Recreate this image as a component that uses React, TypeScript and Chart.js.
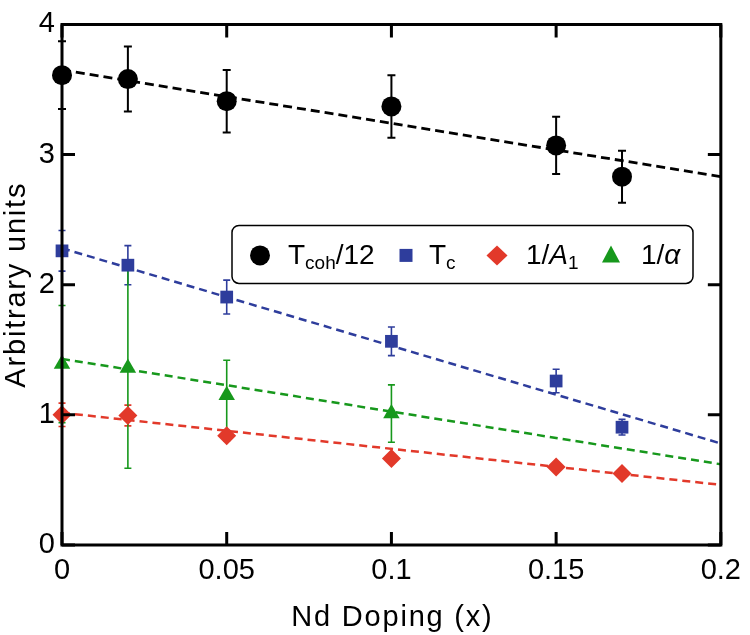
import React, { useEffect, useRef } from "react";
import { Chart, registerables } from "chart.js";

Chart.register(...registerables);

// ---- data ----
const xTicks = [0, 0.05, 0.1, 0.15, 0.2];
const yTicks = [0, 1, 2, 3, 4];

const xTcoh = [0, 0.02, 0.05, 0.1, 0.15, 0.17];
const yTcoh = [3.61, 3.58, 3.41, 3.37, 3.07, 2.83];
const eTcoh = [0.26, 0.25, 0.24, 0.24, 0.22, 0.2];

const xTc = [0, 0.02, 0.05, 0.1, 0.15, 0.17];
const yTc = [2.26, 2.15, 1.905, 1.565, 1.26, 0.905];
const eTc = [0.156, 0.15, 0.13, 0.11, 0.09, 0.06];

const xA1 = [0, 0.02, 0.05, 0.1, 0.15, 0.17];
const yA1 = [1.0, 0.995, 0.84, 0.665, 0.6, 0.55];
const eA1 = [0.09, 0.08, 0.04, 0.03, 0.03, 0.03];

const xAlpha = [0, 0.02, 0.05, 0.1];
const yAlpha = [1.39, 1.36, 1.15, 1.01];
const eAlpha = [0.45, 0.77, 0.27, 0.22];

const fitX = [0, 0.2];
const fitTcoh = [3.65, 2.83];
const fitTc = [2.28, 0.78];
const fitA1 = [1.016, 0.462];
const fitAlpha = [1.43, 0.62];

const BLACK = "#000000";
const BLUE = "#2E3D9C";
const RED = "#E2392A";
const GREEN = "#17981C";
const FONT = "'Liberation Sans', Arial, Helvetica, sans-serif";

const pts = (xs: number[], ys: number[]) => xs.map((x, i) => ({ x, y: ys[i] }));

const errorSeries = [
  { xs: xTcoh, ys: yTcoh, es: eTcoh, color: BLACK, width: 2, cap: 4 },
  { xs: xTc, ys: yTc, es: eTc, color: BLUE, width: 1.6, cap: 3.5 },
  { xs: xA1, ys: yA1, es: eA1, color: RED, width: 1.6, cap: 3.5 },
  { xs: xAlpha, ys: yAlpha, es: eAlpha, color: GREEN, width: 1.6, cap: 3.5 },
];

const errorBarsPlugin = {
  id: "errorBars",
  beforeDatasetsDraw(chart: any) {
    const { ctx, scales } = chart;
    const xs = scales.x;
    const ys = scales.y;
    errorSeries.forEach((s) => {
      ctx.save();
      ctx.strokeStyle = s.color;
      ctx.lineWidth = s.width;
      s.xs.forEach((xv, i) => {
        const px = xs.getPixelForValue(xv);
        const top = ys.getPixelForValue(s.ys[i] + s.es[i]);
        const bot = ys.getPixelForValue(s.ys[i] - s.es[i]);
        ctx.beginPath();
        ctx.moveTo(px, top);
        ctx.lineTo(px, bot);
        ctx.moveTo(px - s.cap, top);
        ctx.lineTo(px + s.cap, top);
        ctx.moveTo(px - s.cap, bot);
        ctx.lineTo(px + s.cap, bot);
        ctx.stroke();
      });
      ctx.restore();
    });
  },
};

const framePlugin = {
  id: "frame",
  afterDatasetsDraw(chart: any) {
    const { ctx, chartArea: a, scales } = chart;
    const tl = 13;
    ctx.save();
    ctx.strokeStyle = "#000";
    ctx.lineWidth = 3;
    ctx.beginPath();
    ctx.rect(a.left, a.top, a.right - a.left, a.bottom - a.top);
    ctx.stroke();
    ctx.beginPath();
    xTicks.forEach((v) => {
      const px = scales.x.getPixelForValue(v);
      ctx.moveTo(px, a.bottom);
      ctx.lineTo(px, a.bottom - tl);
      ctx.moveTo(px, a.top);
      ctx.lineTo(px, a.top + tl);
    });
    yTicks.forEach((v) => {
      const py = scales.y.getPixelForValue(v);
      ctx.moveTo(a.left, py);
      ctx.lineTo(a.left + tl, py);
      ctx.moveTo(a.right, py);
      ctx.lineTo(a.right - tl, py);
    });
    ctx.stroke();
    ctx.restore();
  },
};

type Run = { t: string; size: number; sub?: boolean; italic?: boolean };

function drawRuns(ctx: CanvasRenderingContext2D, runs: Run[], x: number, y: number) {
  let cx = x;
  runs.forEach((r) => {
    ctx.font = `${r.italic ? "italic " : ""}${r.size}px ${FONT}`;
    ctx.fillText(r.t, cx, r.sub ? y + 5 : y);
    cx += ctx.measureText(r.t).width;
  });
}

const legendPlugin = {
  id: "customLegend",
  afterDraw(chart: any) {
    const { ctx, chartArea: a } = chart;
    const L = a.left + 170;
    const T = a.top + 201;
    const W = 461;
    const H = 58;
    const cy = T + 30;
    const base = T + 39;
    ctx.save();
    ctx.fillStyle = "#fff";
    ctx.strokeStyle = "#000";
    ctx.lineWidth = 1.5;
    ctx.beginPath();
    (ctx as any).roundRect(L, T, W, H, 7);
    ctx.fill();
    ctx.stroke();

    // markers
    ctx.fillStyle = BLACK;
    ctx.beginPath();
    ctx.arc(L + 28, cy, 10, 0, Math.PI * 2);
    ctx.fill();

    ctx.fillStyle = BLUE;
    ctx.fillRect(L + 174 - 6.5, cy - 6.5, 13, 13);

    ctx.fillStyle = RED;
    ctx.beginPath();
    ctx.moveTo(L + 265 - 10.5, cy);
    ctx.lineTo(L + 265, cy - 10);
    ctx.lineTo(L + 265 + 10.5, cy);
    ctx.lineTo(L + 265, cy + 10);
    ctx.closePath();
    ctx.fill();

    ctx.fillStyle = GREEN;
    ctx.beginPath();
    ctx.moveTo(L + 379, cy - 10);
    ctx.lineTo(L + 379 + 9, cy + 7);
    ctx.lineTo(L + 379 - 9, cy + 7);
    ctx.closePath();
    ctx.fill();

    // texts
    ctx.fillStyle = "#000";
    ctx.textBaseline = "alphabetic";
    ctx.textAlign = "left";
    drawRuns(ctx, [{ t: "T", size: 28 }, { t: "coh", size: 19, sub: true }, { t: "/12", size: 28 }], L + 56, base);
    drawRuns(ctx, [{ t: "T", size: 28 }, { t: "c", size: 19, sub: true }], L + 197, base);
    drawRuns(ctx, [{ t: "1/", size: 28 }, { t: "A", size: 28, italic: true }, { t: "1", size: 19, sub: true }], L + 294, base);
    drawRuns(ctx, [{ t: "1/", size: 28 }, { t: "α", size: 28, italic: true }], L + 409, base);
    ctx.restore();
  },
};

const titlesPlugin = {
  id: "axisTitles",
  afterDraw(chart: any) {
    const { ctx, chartArea: a } = chart;
    ctx.save();
    ctx.fillStyle = "#000";
    ctx.font = `29px ${FONT}`;
    (ctx as any).letterSpacing = "1.8px";
    ctx.textAlign = "center";
    ctx.textBaseline = "alphabetic";
    ctx.fillText("Nd Doping (x)", (a.left + a.right) / 2 + 1, a.bottom + 81);
    ctx.translate(25, (a.top + a.bottom) / 2);
    ctx.rotate(-Math.PI / 2);
    ctx.fillText("Arbitrary units", 0, 0);
    ctx.restore();
  },
};

export default function App() {
  const ref = useRef<HTMLCanvasElement | null>(null);

  useEffect(() => {
    if (!ref.current) return;
    const fit = (ys: number[], color: string, width: number, dash: number[]) => ({
      type: "line" as const,
      data: pts(fitX, ys),
      borderColor: color,
      borderWidth: width,
      borderDash: dash,
      pointRadius: 0,
      fill: false,
      order: 2,
      clip: false as any,
    });
    const mark = (xs: number[], ys: number[], color: string, style: string, r: number) => ({
      type: "scatter" as const,
      data: pts(xs, ys),
      backgroundColor: color,
      borderColor: color,
      borderWidth: 0,
      pointStyle: style,
      pointRadius: r,
      pointHoverRadius: r,
      order: 1,
      clip: false as any,
    });

    const chart = new Chart(ref.current, {
      type: "scatter",
      data: {
        datasets: [
          fit(fitTcoh, BLACK, 2.8, [9, 5]),
          fit(fitTc, BLUE, 2.5, [8, 5]),
          fit(fitA1, RED, 2.5, [8, 5]),
          fit(fitAlpha, GREEN, 2.5, [8, 5]),
          mark(xA1, yA1, RED, "rectRot", 9.5),
          mark(xAlpha, yAlpha, GREEN, "triangle", 9.5),
          mark(xTc, yTc, BLUE, "rect", 9),
          mark(xTcoh, yTcoh, BLACK, "circle", 10),
        ] as any,
      },
      options: {
        animation: false,
        responsive: true,
        maintainAspectRatio: false,
        layout: { padding: { top: 11, right: 22, left: 0, bottom: 0 } },
        plugins: {
          legend: { display: false },
          tooltip: { enabled: false },
        },
        scales: {
          x: {
            type: "linear",
            min: 0,
            max: 0.2,
            grid: { display: false, drawTicks: false },
            border: { display: false },
            afterBuildTicks: (s: any) => {
              s.ticks = xTicks.map((v) => ({ value: v }));
            },
            afterFit: (s: any) => {
              s.height = 90;
            },
            ticks: {
              padding: 9,
              color: "#000",
              maxRotation: 0,
              autoSkip: false,
              font: { size: 29, family: FONT },
              callback: (v: any) => String(v),
            },
          },
          y: {
            type: "linear",
            min: 0,
            max: 4,
            grid: { display: false, drawTicks: false },
            border: { display: false },
            afterBuildTicks: (s: any) => {
              s.ticks = yTicks.map((v) => ({ value: v }));
            },
            afterFit: (s: any) => {
              s.width = 62;
            },
            ticks: {
              padding: 7,
              color: "#000",
              autoSkip: false,
              font: { size: 29, family: FONT },
              callback: (v: any) => String(v),
            },
          },
        },
      } as any,
      plugins: [errorBarsPlugin, framePlugin, legendPlugin, titlesPlugin],
    });
    return () => chart.destroy();
  }, []);

  return (
    <div style={{ position: "absolute", left: 0, top: 0, width: 750, height: 635, background: "#fff" }}>
      <canvas ref={ref} />
    </div>
  );
}
